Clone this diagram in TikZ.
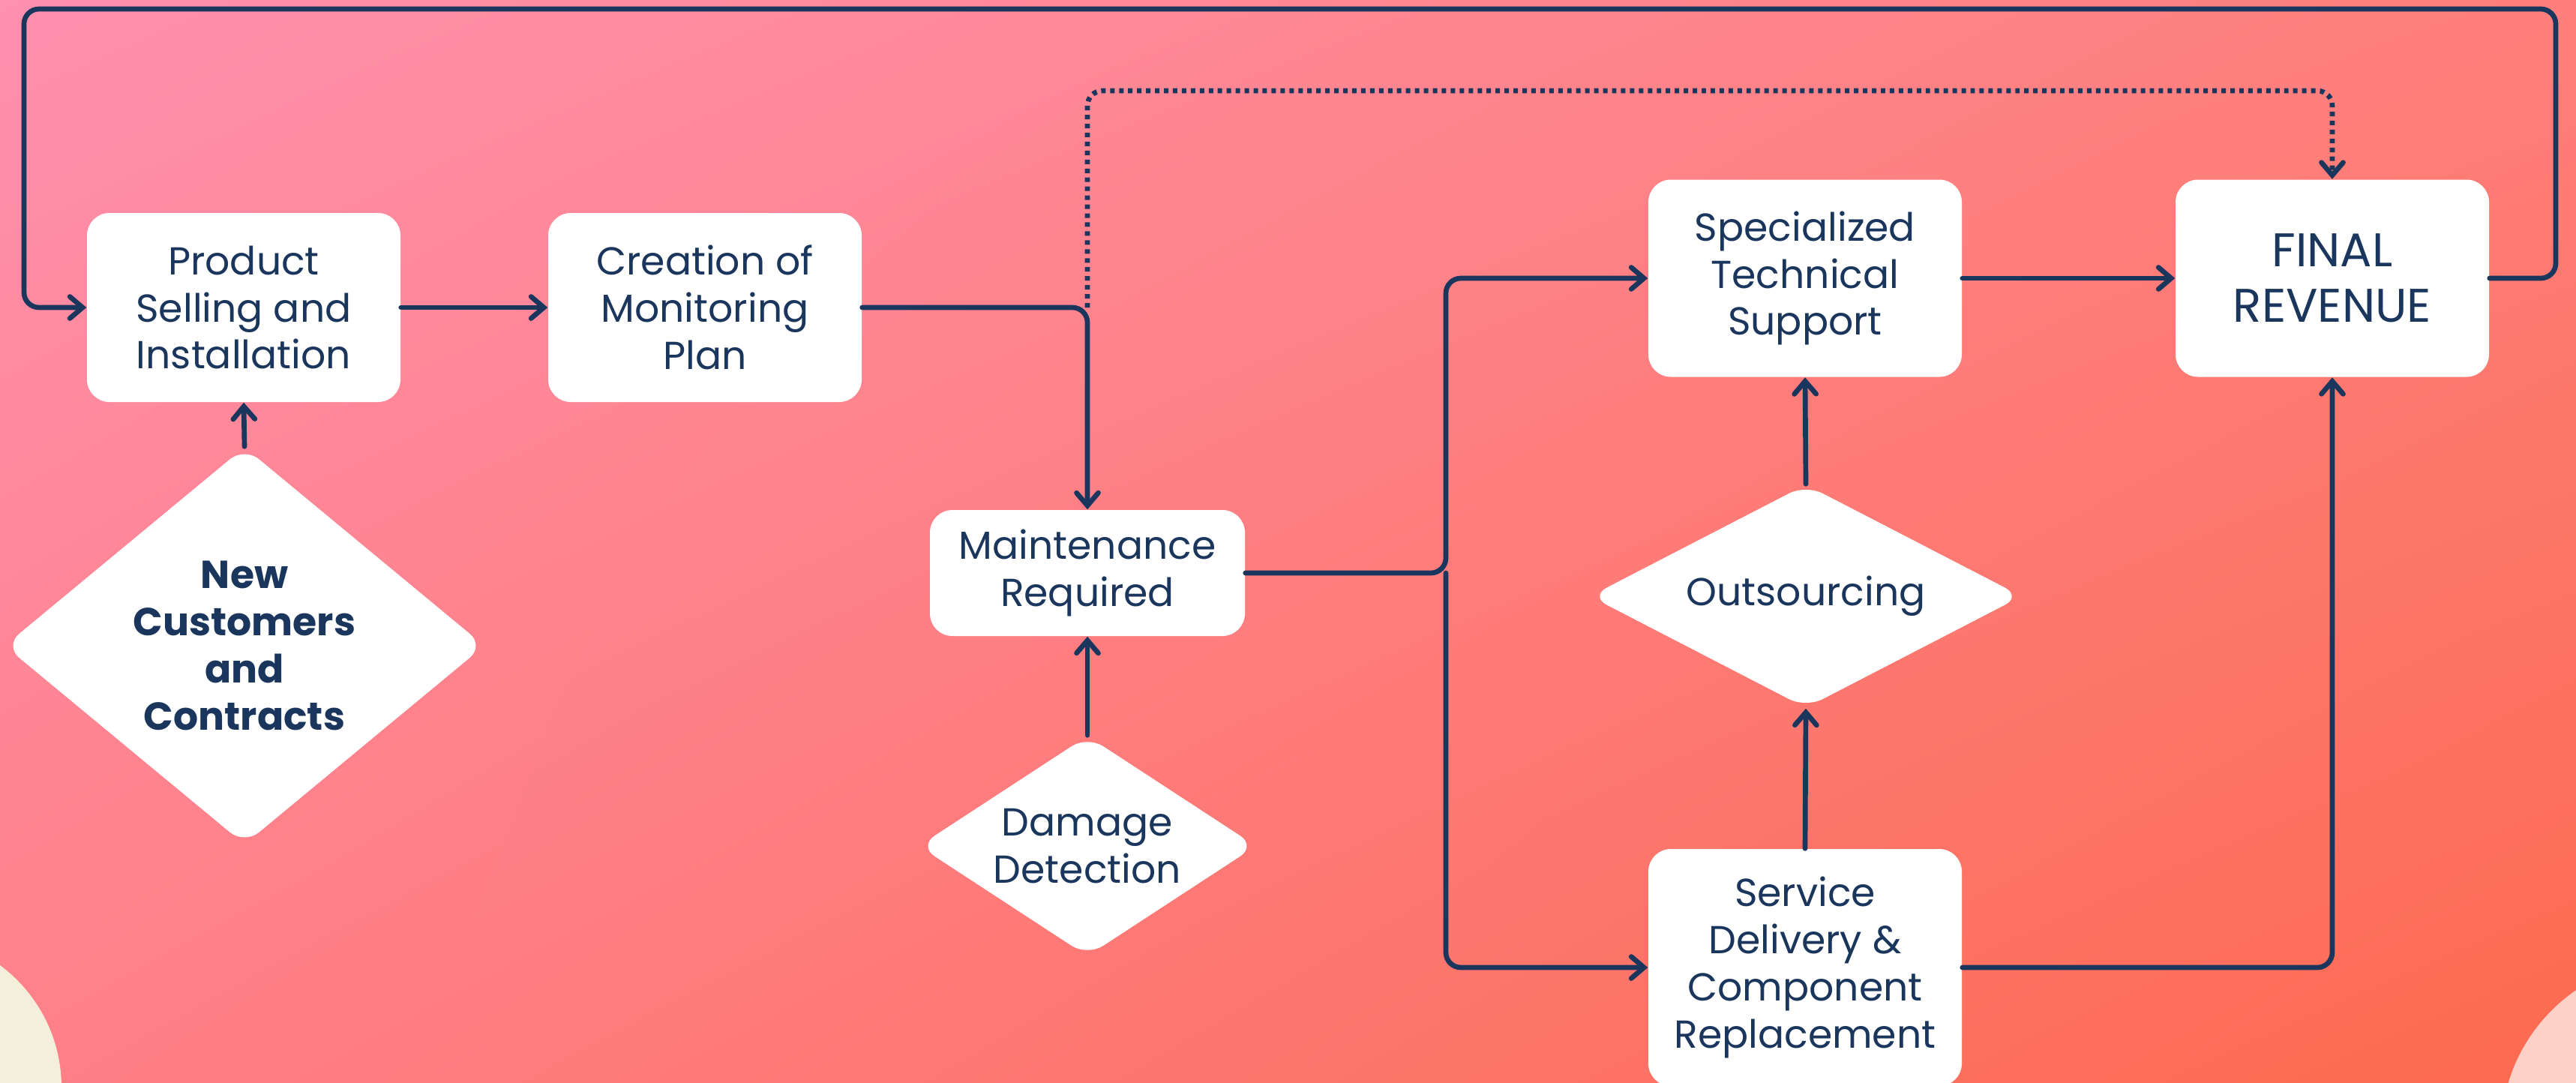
\documentclass[tikz,border=0pt]{standalone}
\usepackage{fontspec}
\setmainfont{Poppins}
\usetikzlibrary{shapes.geometric,arrows.meta,positioning,shadings}
\definecolor{navy}{HTML}{1B365D}
\definecolor{bgTL}{HTML}{FF90AE}
\definecolor{bgTR}{HTML}{FE7F7B}
\definecolor{bgBL}{HTML}{FF8088}
\definecolor{bgBR}{HTML}{FC6A4F}
\definecolor{cream}{HTML}{F3EFDB}
\definecolor{blush}{HTML}{FDD1C7}
\newcommand{\flowfont}{\fontsize{14.8pt}{17.9pt}\selectfont}
\tikzset{
  box/.style={rectangle, rounded corners=0.3cm, fill=white, text=navy, align=center,
    minimum width=4.18cm, inner sep=0pt, font=\flowfont},
  choice/.style={diamond, rounded corners=0.25cm, fill=white, text=navy, align=center,
    inner sep=0pt, font=\flowfont},
  link/.style={draw=navy, line width=1.9pt, line cap=round, rounded corners=0.2cm,
    -{Straight Barb[length=1.7mm,width=2.9mm,line cap=round]}},
  dotlink/.style={link, line cap=butt, dash pattern=on 1.7pt off 1.7pt}
}
\begin{document}
\begin{tikzpicture}
    % background
    \useasboundingbox (0,0) rectangle (34.35,-14.43);
    \shade[upper left=bgTL, upper right=bgTR, lower left=bgBL, lower right=bgBR]
      (0,0) rectangle (34.35,-14.43);
    \fill[cream] (-1.21,-14.50) circle (2.03);
    \fill[blush] (35.65,-15.10) circle (2.30);

    % nodes
    \node[box, minimum height=2.52cm] (prod) at (3.25,-4.10) {Product\\Selling and\\Installation};
    \node[box, minimum height=2.52cm] (plan) at (9.40,-4.10) {Creation of\\Monitoring\\Plan};
    \node[box, minimum width=4.20cm, minimum height=1.68cm] (maint) at (14.50,-7.64) {Maintenance\\Required};
    \node[box, minimum height=2.63cm] (spec) at (24.07,-3.71) {Specialized\\Technical\\Support};
    \node[box, minimum height=2.63cm, font=\fontsize{17.9pt}{21pt}\selectfont] (final) at (31.10,-3.71) {FINAL\\REVENUE};
    \node[box, minimum height=3.16cm] (serv) at (24.07,-12.90) {Service\\Delivery \&\\Component\\Replacement};
    \node[choice, aspect=1.2, minimum width=6.40cm, minimum height=5.30cm, font=\flowfont\bfseries] (newc) at (3.26,-8.61) {New\\Customers\\and\\Contracts};
    \node[choice, aspect=1.5, minimum width=4.50cm, minimum height=2.94cm] (damage) at (14.50,-11.28) {Damage\\Detection};
    \node[choice, aspect=2, minimum width=5.76cm, minimum height=2.98cm] (outs) at (24.08,-7.95) {Outsourcing};

    % helper points
    \coordinate (dotstart) at (maint.north |- plan.east);
    \coordinate (dottop) at (14.50,-1.21);
    \coordinate (split) at (19.28,-7.64);
    \coordinate (loopR) at (34.08,-0.12);
    \coordinate (loopL) at (0.32,-0.12);

    % connectors
    \draw[link] (newc.north) -- (prod.south);
    \draw[link] (prod) -- (plan);
    \draw[link] (plan.east) -| (maint.north);
    \draw[dotlink] (dotstart) -- (dottop) -| (final.north);
    \draw[link] (damage.north) -- (maint.south);
    \draw[link] (maint.east) -- (split) |- (spec.west);
    \draw[link] (split) |- (serv.west);
    \draw[link] (spec) -- (final);
    \draw[link] (serv.north) -- (outs.south);
    \draw[link] (outs.north) -- (spec.south);
    \draw[link] (serv.east) -| (final.south);
    \draw[link] (final.east) -| (loopR) -- (loopL) |- (prod.west);
\end{tikzpicture}
\end{document}
